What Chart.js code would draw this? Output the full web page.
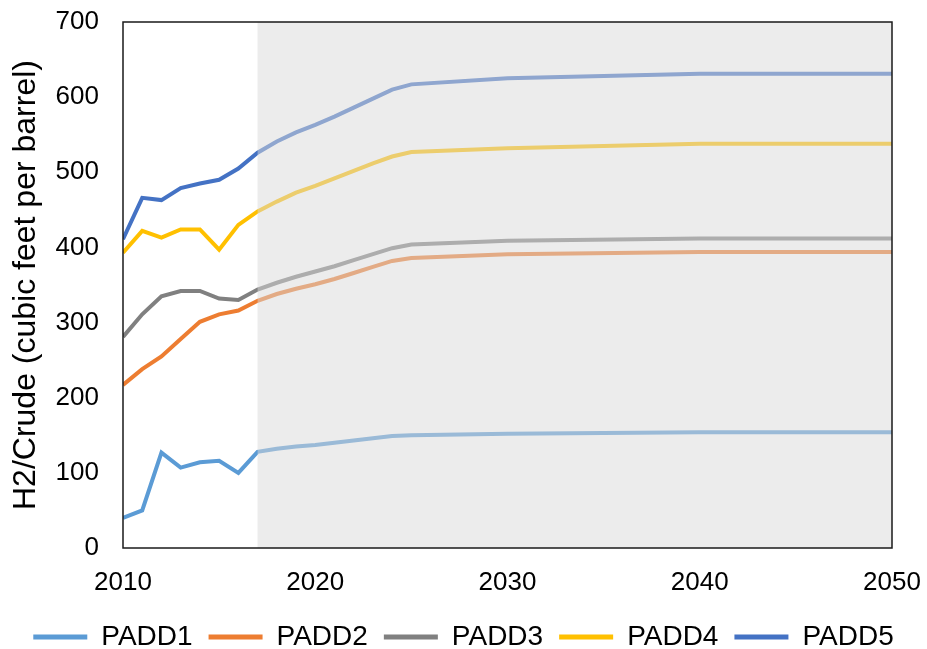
<!DOCTYPE html>
<html>
<head>
<meta charset="utf-8">
<script src="https://cdn.jsdelivr.net/npm/chart.js@4.4.1/dist/chart.umd.min.js"></script>
<style>
  html, body { margin: 0; padding: 0; background: #ffffff; }
  #wrap { width: 927px; height: 649px; position: relative; }
</style>
</head>
<body>
<div id="wrap"><canvas id="c" width="927" height="649"></canvas></div>
<script>
// ---- data ----
const years = [2010, 2011, 2012, 2013, 2014, 2015, 2016, 2017, 2018, 2019, 2020, 2021, 2022, 2023, 2024, 2025, 2030, 2040, 2050];
const padd1 = [40, 50, 127, 107, 114, 116, 100, 128, 132, 135, 137, 140, 143, 146, 149, 150, 152, 154, 154];
const padd2 = [217, 238, 255, 278, 301, 311, 316, 329, 338, 345, 351, 358, 366, 374, 382, 386, 391, 394, 394];
const padd3 = [281, 311, 335, 342, 342, 332, 330, 344, 353, 361, 368, 375, 383, 391, 399, 404, 409, 412, 412];
const padd4 = [393, 422, 413, 424, 424, 397, 430, 448, 461, 473, 482, 492, 502, 512, 521, 527, 532, 538, 538];
const padd5 = [411, 466, 463, 479, 485, 490, 505, 526, 541, 553, 563, 574, 586, 598, 610, 617, 625, 631, 631];
const seriesNames = ['PADD1', 'PADD2', 'PADD3', 'PADD4', 'PADD5'];
const seriesColors = ['#5b9bd5', '#ed7d31', '#808080', '#ffc000', '#4472c4'];
const xTicks = [2010, 2020, 2030, 2040, 2050];
const yTicks = [0, 100, 200, 300, 400, 500, 600, 700];
const projectionStart = 2017;
const projectionEnd = 2050;

const allSeries = [padd1, padd2, padd3, padd4, padd5];
const datasets = allSeries.map((vals, i) => ({
  label: seriesNames[i],
  data: years.map((yr, j) => ({ x: yr, y: vals[j] })),
  borderColor: seriesColors[i],
  backgroundColor: seriesColors[i],
  borderWidth: 4,
  pointRadius: 0,
  tension: 0,
  fill: false
}));

const FONT = '"Liberation Sans", Arial, sans-serif';
const PLOT_TOP = 22;
const PLOT_BOTTOM = 548;
const PLOT_RIGHT_GAP = 35;
const LEGEND_SHIFT = 12;

const shadePlugin = {
  id: 'shade',
  afterLayout(chart) {
    const lg = chart.legend;
    if (lg) { lg.top += LEGEND_SHIFT; lg.bottom += LEGEND_SHIFT; }
  },
  afterDatasetsDraw(chart) {
    const { ctx, chartArea, scales } = chart;
    const x0 = scales.x.getPixelForValue(projectionStart);
    const x1 = scales.x.getPixelForValue(projectionEnd);
    ctx.save();
    ctx.fillStyle = 'rgba(217,217,217,0.5)';
    ctx.fillRect(x0, chartArea.top, x1 - x0, chartArea.bottom - chartArea.top);
    ctx.restore();
  },
  afterDraw(chart) {
    const { ctx, chartArea } = chart;
    ctx.save();
    ctx.strokeStyle = '#1a1a1a';
    ctx.lineWidth = 1.5;
    ctx.strokeRect(chartArea.left, chartArea.top, chartArea.right - chartArea.left, chartArea.bottom - chartArea.top);
    ctx.restore();
  }
};

new Chart(document.getElementById('c'), {
  type: 'line',
  data: { datasets },
  plugins: [shadePlugin],
  options: {
    responsive: false,
    animation: false,
    devicePixelRatio: 1,
    layout: { padding: 0 },
    plugins: {
      tooltip: { enabled: false },
      legend: {
        position: 'bottom',
        labels: {
          font: { family: FONT, size: 28 },
          color: '#000000',
          boxWidth: 54,
          boxHeight: 5,
          padding: 16,
          generateLabels(chart) {
            return chart.data.datasets.map((d, i) => ({
              text: d.label,
              fillStyle: d.borderColor,
              strokeStyle: d.borderColor,
              lineWidth: 0,
              fontColor: '#000000',
              datasetIndex: i,
              hidden: false
            }));
          }
        }
      }
    },
    scales: {
      x: {
        type: 'linear',
        min: 2010,
        max: 2050,
        afterBuildTicks(scale) { scale.ticks = xTicks.map(v => ({ value: v })); },
        afterFit(scale) {
          const lg = scale.chart.legend;
          const lh = lg ? lg.height : 0;
          scale.height = 649 - PLOT_BOTTOM - lh;
          scale.paddingLeft = 0;
          scale.paddingRight = PLOT_RIGHT_GAP;
        },
        grid: { display: false, drawTicks: false },
        border: { display: false },
        ticks: {
          padding: 19,
          maxRotation: 0,
          autoSkip: false,
          color: '#000000',
          font: { family: FONT, size: 26 },
          callback: v => String(v)
        }
      },
      y: {
        min: 0,
        max: 700,
        afterBuildTicks(scale) { scale.ticks = yTicks.map(v => ({ value: v })); },
        afterFit(scale) {
          scale.width = 123;
          scale.paddingTop = PLOT_TOP;
          scale.paddingBottom = 0;
        },
        grid: { display: false, drawTicks: false },
        border: { display: false },
        ticks: {
          padding: 24,
          color: '#000000',
          font: { family: FONT, size: 26 },
          callback: v => String(v)
        },
        title: {
          display: true,
          text: 'H2/Crude (cubic feet per barrel)',
          color: '#000000',
          font: { family: FONT, size: 32 },
          padding: { top: 7, bottom: 0 }
        }
      }
    }
  }
});
</script>
</body>
</html>
